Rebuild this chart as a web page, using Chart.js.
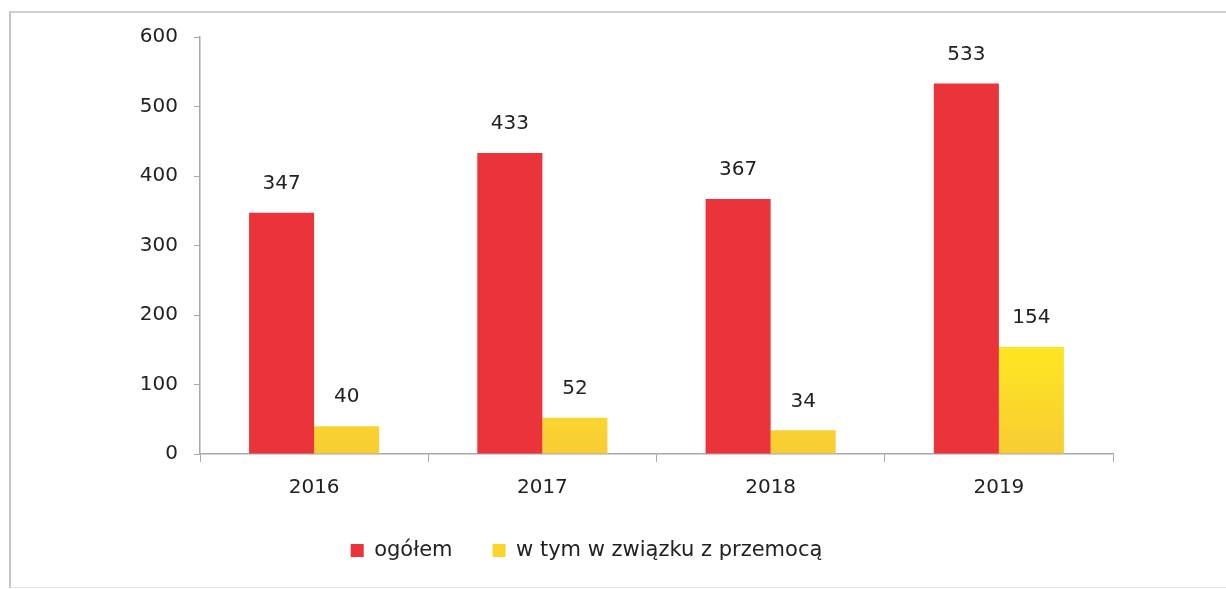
<!DOCTYPE html>
<html>
<head>
<meta charset="utf-8">
<script src="https://cdn.jsdelivr.net/npm/chart.js@4.4.0/dist/chart.umd.min.js"></script>
<style>
  html, body { margin: 0; padding: 0; background: #fff; }
  #wrap { position: relative; width: 1226px; height: 589px; }
  #frame {
    position: absolute; left: 9px; top: 11px; width: 1230px; height: 574px;
    border-left: 2px solid #c4c4c4; border-top: 2px solid #cfcfcf; border-bottom: 1px solid #e4e4e4;
  }
  canvas { position: absolute; left: 0; top: 0; }
</style>
</head>
<body>
<div id="wrap">
  <div id="frame"></div>
  <canvas id="chart" width="1226" height="589"></canvas>
</div>
<script>
"use strict"

const years = ['2016', '2017', '2018', '2019'];
const total = [347, 433, 367, 533];
const violence = [40, 52, 34, 154];
const seriesNames = ['ogółem', 'w tym w związku z przemocą'];
const yTicks = [0, 100, 200, 300, 400, 500, 600];

const FONT = "'DejaVu Sans', Verdana, sans-serif";
const INK = '#222222';

// yellow fill runs a bit darker towards the bottom
const yellowFill = (ctx) => {
    const area = ctx.chart.chartArea;
    if (!area) return '#fbd92a';
    const g = ctx.chart.ctx.createLinearGradient(0, area.top + 280, 0, area.bottom);
    g.addColorStop(0, '#ffee1c');
    g.addColorStop(1, '#f8cc34');
    return g;
}

// numbers above the bars
const valueLabels = {
    id: 'valueLabels',
    afterDatasetsDraw(chart) {
        const c = chart.ctx;
        c.save();
        c.font = '20px ' + FONT;
        c.fillStyle = INK;
        c.textAlign = 'center';
        c.textBaseline = 'middle';
        chart.data.datasets.forEach((ds, i) => {
            chart.getDatasetMeta(i).data.forEach((bar, j) => {
                c.fillText(ds.data[j], bar.x, bar.y - 29);
            });
        });
        c.restore();
    }
};

new Chart(document.getElementById('chart'), {
    type: 'bar',
    data: {
        labels: years,
        datasets: [
            { label: seriesNames[0], data: total, backgroundColor: '#eb3439' },
            { label: seriesNames[1], data: violence, backgroundColor: yellowFill }
        ]
    },
    options: {
        responsive: false,
        animation: false,
        categoryPercentage: 0.57,
        barPercentage: 1,
        layout: { padding: { top: 37, right: 53, bottom: 18, left: 0 } },
        plugins: {
            tooltip: { enabled: false },
            legend: {
                position: 'bottom',
                labels: {
                    font: { family: FONT, size: 21 },
                    color: INK,
                    boxWidth: 13,
                    boxHeight: 13,
                    padding: 40,
                    generateLabels(chart) {
                        const cols = ['#eb3439', '#fbd52a'];
                        return chart.data.datasets.map((ds, i) => ({
                            text: ds.label, fillStyle: cols[i], strokeStyle: cols[i],
                            lineWidth: 0, datasetIndex: i, fontColor: INK
                        }));
                    }
                }
            }
        },
        scales: {
            x: {
                grid: { drawOnChartArea: false, tickLength: 8, color: '#a8a8a8' },
                border: { color: '#a8a8a8', width: 1.5 },
                ticks: { font: { family: FONT, size: 20 }, color: INK, padding: 14 },
                afterFit(scale) { scale.height = 46; }
            },
            y: {
                min: 0,
                max: 600,
                afterBuildTicks(scale) { scale.ticks = yTicks.map(v => ({ value: v })); },
                grid: { drawOnChartArea: false, tickLength: 6, color: '#a8a8a8' },
                border: { color: '#a8a8a8', width: 1.5 },
                ticks: { font: { family: FONT, size: 20 }, color: INK, padding: 16 },
                afterFit(scale) { scale.width = 200; }
            },
            // empty space on the right, keeps the legend centred like the original
            spacer: {
                position: 'right',
                min: 0,
                max: 600,
                grid: { display: false },
                border: { display: false },
                ticks: { display: false },
                afterFit(scale) { scale.width = 60; }
            }
        }
    },
    plugins: [valueLabels]
});
</script>
</body>
</html>
